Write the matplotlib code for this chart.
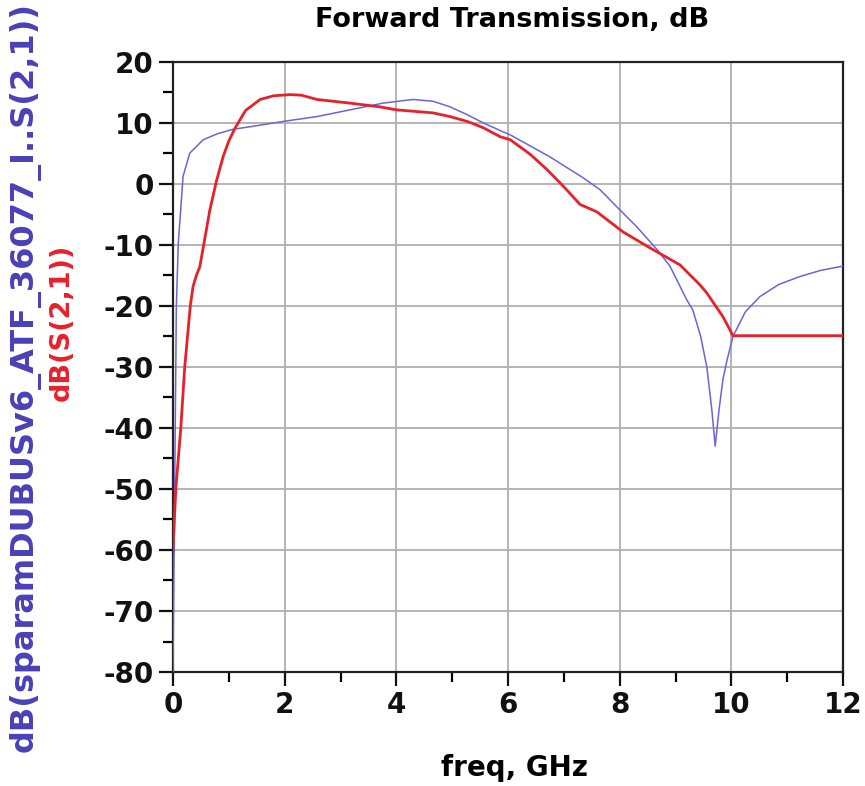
import matplotlib.pyplot as plt
import numpy as np
from matplotlib.ticker import MultipleLocator

# blue trace: dB(sparamDUBUSv6_ATF_36077_I..S(2,1))
freq_blue = [0.0, 0.02, 0.04, 0.06, 0.095, 0.14, 0.18, 0.3, 0.54, 0.8, 1.07, 1.5,
             1.97, 2.58, 3.17, 3.76, 4.3, 4.66, 4.96, 5.27, 5.55, 5.86, 6.04, 6.75,
             7.34, 7.65, 7.95, 8.3, 8.67, 8.9, 9.2, 9.31, 9.45, 9.56, 9.65, 9.71,
             9.78, 9.85, 9.92, 10.03, 10.25, 10.51, 10.85, 11.23, 11.6, 12.0]
db_blue = [-80, -60, -40, -20, -9.7, -4, 1.2, 5.0, 7.2, 8.2, 8.9, 9.5,
           10.2, 11.0, 12.1, 13.2, 13.8, 13.5, 12.6, 11.3, 10.0, 8.7, 8.0, 4.4,
           1.0, -1.0, -3.8, -7.0, -10.8, -13.5, -19.0, -20.7, -25, -30, -37, -43,
           -37, -32, -29, -25, -21, -18.5, -16.5, -15.2, -14.2, -13.5]

# red trace: dB(S(2,1))
freq_red = [0.0, 0.05, 0.14, 0.21, 0.31, 0.36, 0.42, 0.48, 0.55, 0.66, 0.78, 0.9,
            1.0, 1.11, 1.3, 1.56, 1.8, 2.1, 2.3, 2.58, 3.17, 3.7, 4.0, 4.66, 4.96,
            5.27, 5.55, 5.86, 6.04, 6.4, 6.7, 7.0, 7.29, 7.59, 8.06, 8.54, 9.08,
            9.44, 9.56, 9.85, 10.03, 12.0]
db_red = [-60, -50, -40, -30, -20, -16.8, -15, -13.6, -10, -4.3, 0.5, 4.5,
          7.0, 9.1, 12.0, 13.8, 14.4, 14.6, 14.5, 13.8, 13.2, 12.6, 12.1, 11.6, 11.0,
          10.2, 9.2, 7.7, 7.2, 4.8, 2.3, -0.5, -3.4, -4.6, -7.9, -10.5, -13.3,
          -16.6, -17.9, -21.8, -24.9, -24.9]

xticks = np.arange(0, 13, 2)
yticks = np.arange(-80, 21, 10)

plt.rcParams["font.family"] = ["DejaVu Sans"]
plt.rcParams["font.weight"] = "bold"
plt.rcParams["axes.unicode_minus"] = False

fig = plt.figure(figsize=(8.65, 7.86), dpi=100)
ax = fig.add_axes([0.200, 0.145, 0.7746, 0.7766])

ax.plot(freq_blue, db_blue, color="#6a64d8", lw=1.1, zorder=3)
ax.plot(freq_red, db_red, color="#e8202a", lw=2.0, zorder=4)

ax.set_xlim(0, 12)
ax.set_ylim(-80, 20)
ax.set_xticks(xticks)
ax.set_yticks(yticks)
ax.xaxis.set_minor_locator(MultipleLocator(1))
ax.yaxis.set_minor_locator(MultipleLocator(5))
ax.tick_params(which="major", direction="out", length=10, width=1.6,
               labelsize=20, colors="#111111", pad=4)
ax.tick_params(which="minor", direction="out", length=7, width=1.6)
ax.grid(True, which="major", color="#b4b4b4", lw=1.4)
for s in ax.spines.values():
    s.set_linewidth(1.6)
    s.set_color("#222222")

fig.text(0.595, 0.023, "freq, GHz", ha="center", va="center", fontsize=20)
fig.text(0.592, 0.975, "Forward Transmission, dB", ha="center", va="center",
         fontsize=19.5)
fig.text(0.029, 0.52, "dB(sparamDUBUSv6_ATF_36077_I..S(2,1))", rotation=90,
         ha="center", va="center", fontsize=23, color="#4a40b8")
fig.text(0.071, 0.59, "dB(S(2,1))", rotation=90, ha="center", va="center",
         fontsize=19.5, color="#e8202a")

fig.savefig("out.png", dpi=100)
